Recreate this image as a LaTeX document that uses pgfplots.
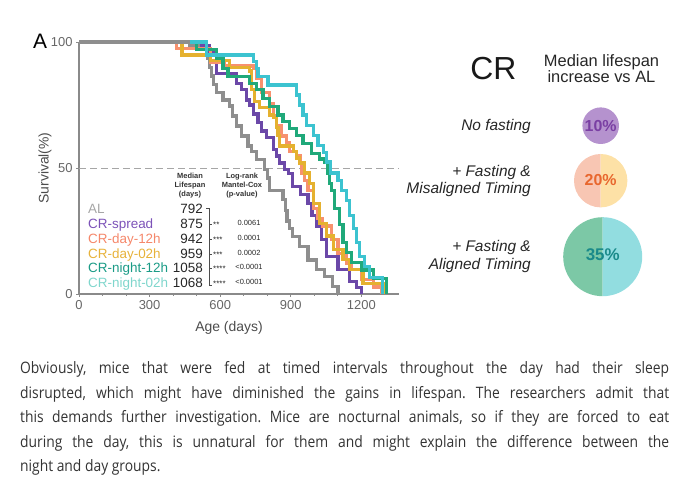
\documentclass[border=0pt]{standalone}
\usepackage{fontspec}
\setmainfont{Liberation Sans}
\newfontfamily\opensans[FakeStretch=0.88]{Open Sans}
\usepackage{pgfplots}
\pgfplotsset{compat=1.18}
\usepackage{pgfplotstable}
\definecolor{cAL}{HTML}{8E8E8E}
\definecolor{cSP}{HTML}{6B48A8}
\definecolor{cD12}{HTML}{F7916E}
\definecolor{cD02}{HTML}{E5B12F}
\definecolor{cN12}{HTML}{20A97A}
\definecolor{cN02}{HTML}{3CC3D0}
\definecolor{tAL}{HTML}{A6A6A6}
\definecolor{tSP}{HTML}{7C52B8}
\definecolor{tD12}{HTML}{F5876A}
\definecolor{tD02}{HTML}{E7B23A}
\definecolor{tN12}{HTML}{1A9B86}
\definecolor{tN02}{HTML}{7FD6CC}
\definecolor{axgray}{HTML}{8A8A8A}
\definecolor{labgray}{HTML}{666666}
\definecolor{ptext}{HTML}{333333}
\definecolor{purfill}{HTML}{B592CE}
\definecolor{purtext}{HTML}{7A3FA3}
\definecolor{salfill}{HTML}{F8C6B3}
\definecolor{yelfill}{HTML}{FDE1A6}
\definecolor{orgtext}{HTML}{E8672E}
\definecolor{grnfill}{HTML}{7CC8A6}
\definecolor{cyafill}{HTML}{92DDE0}
\definecolor{teatext}{HTML}{1A8A8A}

\pgfplotstableread{
x y
0 100
470 98.7
530 97.3
545 93.5
556 90
564 86.5
572 83
583 80
612 77
640 74.6
654 70.6
669 66.7
690 62.7
718 58.7
733 56.7
754 53.4
790 49.5
800 46
810 41
867 37.6
876 33
884 29
893 26
909 22.8
938 19
973 13.5
1009 9.6
1044 7
1078 3
1101 0
}\tAL

\pgfplotstableread{
x y
0 100
520 98.7
555 96
584 87.5
669 83.6
690 81
711 77
725 75
740 71.4
761 68
775 64.7
797 62
825 57.4
839 54.8
853 52
875 49.5
890 47.9
909 42.6
940 39.5
973 36
990 31
1009 26.8
1030 21.5
1051 15
1101 9.6
1150 5
1180 2.5
1200 0
}\tSP

\pgfplotstableread{
x y
0 100
415 97.5
560 92
620 90.5
740 89.6
754 85.5
775 80
811 75.5
825 70.6
839 66.7
860 62.7
881 60
896 56.7
924 54.8
942 52
948 48
959 45
973 41
995 34
1016 30
1035 27
1072 21.5
1101 16
1136 12
1158 9.6
1200 5.6
1250 2.8
1286 0
}\tDA

\pgfplotstableread{
x y
0 100
438 94.8
560 92.5
640 90
725 88.5
732 81
747 76.5
768 74
811 71
825 70
839 66
846 63
852 58.7
910 56.7
924 54
938 52
959 48
980 44
995 36
1023 28
1051 23
1080 17.6
1122 13.6
1151 9.6
1207 4.3
1300 0
}\tDB

\pgfplotstableread{
x y
0 100
500 97
586 93.5
612 89.6
633 86.2
725 83.6
754 81
782 77.6
811 74.3
846 71
867 68.4
896 65.7
924 63
952 59.7
988 55.7
1023 53.6
1045 52.2
1058 47.9
1065 44
1072 41
1087 34
1108 27.5
1122 20.5
1136 16.6
1158 12.5
1200 9.5
1250 6
1306 0
}\tNA

\pgfplotstableread{
x y
0 100
541 94.8
740 92.2
754 89.6
761 86.2
803 82.9
924 79
938 75
952 71
966 67
995 63
1016 59
1038 56.3
1052 52.4
1068 48
1101 45
1115 41
1136 37
1151 31
1165 26
1179 20.5
1193 15
1214 11
1236 6.6
1290 0
}\tNB

\begin{document}
\frenchspacing
\begin{tikzpicture}
\useasboundingbox (0,0) rectangle (689bp,485bp);
\begin{axis}[at={(79bp,191bp)}, anchor=south west, scale only axis,
  width=320bp, height=252bp, xmin=0, xmax=1360, ymin=0, ymax=100,
  axis lines=left, axis line style={-, draw=axgray, line width=1.4bp},
  xtick={0,300,600,900,1200}, ytick={0,50,100}, minor x tick num=2,
  tick align=outside, major tick length=3bp, minor tick length=2bp,
  tick style={axgray, line width=0.9bp},
  ticklabel style={font=\fontsize{13}{13}\selectfont, text=labgray},
  /pgf/number format/assume math mode=true, /pgf/number format/1000 sep={},
  clip=false]
\addplot[no marks, black!35, dash pattern=on 7bp off 4bp, line width=0.9bp] coordinates {(0,50) (1360,50)};
\addplot[const plot, no marks, cAL, line width=3.2bp] table {\tAL};
\addplot[const plot, no marks, cSP, line width=3.2bp] table {\tSP};
\addplot[const plot, no marks, cD12, line width=3.2bp] table {\tDA};
\addplot[const plot, no marks, cD02, line width=3.2bp] table {\tDB};
\addplot[const plot, no marks, cN12, line width=3.2bp] table {\tNA};
\addplot[const plot, no marks, cN02, line width=3.2bp] table {\tNB};
\addplot[no marks, cAL, line width=3.2bp] coordinates {(0,100) (470,100)};
\end{axis}
\begin{scope}[x=1bp,y=-1bp,shift={(0bp,485bp)}]
% panel label and axis labels
\node[anchor=base, font=\fontsize{21}{21}\selectfont] at (40,49) {A};
\node[rotate=90, font=\fontsize{14}{14}\selectfont, text=black!70] at (45,168) {Survival(\%)};
\node[font=\fontsize{14}{14}\selectfont, text=black!70] at (229,328) {Age (days)};
% table header
\node[anchor=base, font=\fontsize{7.5}{7.5}\selectfont\bfseries, text=black!80] at (190,179) {Median};
\node[anchor=base, font=\fontsize{7.5}{7.5}\selectfont\bfseries, text=black!80] at (190,188) {Lifespan};
\node[anchor=base, font=\fontsize{7.5}{7.5}\selectfont\bfseries, text=black!80] at (190,197) {(days)};
\node[anchor=base, font=\fontsize{7.5}{7.5}\selectfont\bfseries, text=black!80] at (242,179) {Log-rank};
\node[anchor=base, font=\fontsize{7.5}{7.5}\selectfont\bfseries, text=black!80] at (242,188) {Mantel-Cox};
\node[anchor=base, font=\fontsize{7.5}{7.5}\selectfont\bfseries, text=black!80] at (242,197) {(p-value)};
% names
\foreach \yy/\nm/\cc/\md in {214/AL/tAL/792, 228.7/CR-spread/tSP/875, 243.4/CR-day-12h/tD12/942, 258.1/CR-day-02h/tD02/959, 272.8/CR-night-12h/tN12/1058, 287.5/CR-night-02h/tN02/1068}{
  \node[anchor=base west, inner sep=0, font=\fontsize{13.5}{13.5}\selectfont, text=\cc] at (88,\yy) {\nm};
  \node[anchor=base east, inner sep=0, font=\fontsize{13.5}{13.5}\selectfont, text=black!85] at (203,\yy) {\md};
}
% bracket
\draw[black!70, line width=0.6bp] (206,208) -- (209,208) -- (209,285) -- (212,285);
\foreach \yy in {224.5,239.2,253.9,268.6}{\draw[black!70, line width=0.6bp] (209,\yy) -- (212,\yy);}
\foreach \yy/\st/\pv in {228.7/**/0.0061, 243.4/***/0.0001, 258.1/***/0.0002, 272.8/****/<0.0001, 287.5/****/<0.0001}{
  \node[anchor=base west, inner sep=0, font=\fontsize{8}{8}\selectfont, text=black!85] at (213,\yy-1) {\st};
  \node[anchor=base, inner sep=0, font=\fontsize{7.5}{7.5}\selectfont, text=black!85] at (249,\yy-3) {\pv};
}
% right panel
\node[anchor=base, inner sep=0, font=\fontsize{32}{32}\selectfont, text=black!90] at (493.5,80) {CR};
\node[anchor=base, inner sep=0, font=\fontsize{16.5}{16.5}\selectfont, text=black!85] at (601.5,66.7) {Median lifespan};
\node[anchor=base, inner sep=0, font=\fontsize{16.5}{16.5}\selectfont, text=black!85] at (601.5,82.7) {increase vs AL};
\node[anchor=base east, inner sep=0, font=\fontsize{15.5}{15.5}\selectfont\itshape, text=black!85] at (531,130.7) {No fasting};
\node[anchor=base east, inner sep=0, font=\fontsize{15.5}{15.5}\selectfont\itshape, text=black!85] at (531,176.2) {+ Fasting \&};
\node[anchor=base east, inner sep=0, font=\fontsize{15.5}{15.5}\selectfont\itshape, text=black!85] at (531,193.7) {Misaligned Timing};
\node[anchor=base east, inner sep=0, font=\fontsize{15.5}{15.5}\selectfont\itshape, text=black!85] at (531,252) {+ Fasting \&};
\node[anchor=base east, inner sep=0, font=\fontsize{15.5}{15.5}\selectfont\itshape, text=black!85] at (531,269.5) {Aligned Timing};
% circles
\fill[purfill] (600.7,125.7) circle[radius=18.3];
\begin{scope}\clip (570,150) rectangle (600.7,212); \fill[salfill] (600.7,180.7) circle[radius=26.7]; \end{scope}
\begin{scope}\clip (600.7,150) rectangle (632,212); \fill[yelfill] (600.7,180.7) circle[radius=26.7]; \end{scope}
\begin{scope}\clip (560,215) rectangle (602.7,300); \fill[grnfill] (602.7,256.7) circle[radius=39.5]; \end{scope}
\begin{scope}\clip (602.7,215) rectangle (645,300); \fill[cyafill] (602.7,256.7) circle[radius=39.5]; \end{scope}
\node[inner sep=0, font=\fontsize{16}{16}\selectfont\bfseries, text=purtext] at (600.7,125.7) {10\%};
\node[inner sep=0, font=\fontsize{16}{16}\selectfont\bfseries, text=orgtext] at (600.7,180.5) {20\%};
\node[inner sep=0, font=\fontsize{17}{17}\selectfont\bfseries, text=teatext] at (602.7,255) {35\%};
% paragraph
\begin{scope}[every node/.style={anchor=base west, inner sep=0, font=\opensans\fontsize{15.8}{15.8}\selectfont, text=ptext}]
\node at (20,374) {\makebox[649bp][s]{Obviously, mice that were fed at timed intervals throughout the day had their sleep}};
\node at (20,398.5) {\makebox[649bp][s]{disrupted, which might have diminished the gains in lifespan. The researchers admit that}};
\node at (20,423) {\makebox[649bp][s]{this demands further investigation. Mice are nocturnal animals, so if they are forced to eat}};
\node at (20,447.5) {\makebox[649bp][s]{during the day, this is unnatural for them and might explain the difference between the}};
\node at (20,472) {night and day groups.};
\end{scope}
\end{scope}
\end{tikzpicture}
\end{document}
